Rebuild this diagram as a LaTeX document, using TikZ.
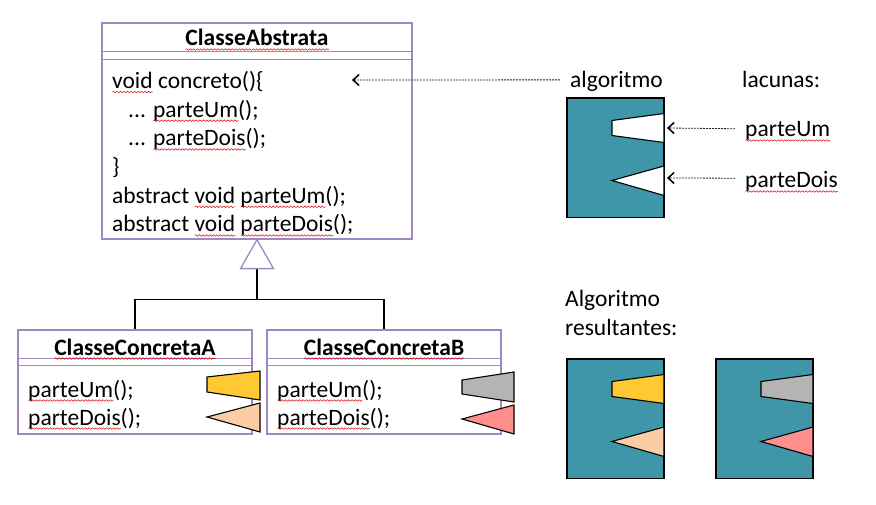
\documentclass[tikz,border=0pt]{standalone}
\usepackage{fontspec}
\setmainfont{Carlito}
\usetikzlibrary{
  calc,
  arrows.meta,
  decorations.pathmorphing
}
\definecolor{roxo}{RGB}{158,137,196}
\definecolor{petroleo}{RGB}{62,150,168}
\definecolor{amarelo}{RGB}{255,201,51}
\definecolor{pessego}{RGB}{250,205,165}
\definecolor{cinza}{RGB}{180,180,180}
\definecolor{rosa}{RGB}{255,143,143}
\newlength\larguraerro
\newcommand\erro[1]{\settowidth\larguraerro{#1}\rlap{\tikz[baseline=0pt]{\draw[red!85!black, line width=0.5pt, decorate, decoration={snake, amplitude=0.8pt, segment length=3.5pt}] (0pt,-3.5pt) -- (\larguraerro,-3.5pt);}}#1}
\tikzset{
texto/.style={font=\fontsize{23.5}{28}\selectfont, inner sep=0pt, anchor=base west},
titulo/.style={font=\bfseries\fontsize{23.5}{28}\selectfont, inner sep=0pt, anchor=base},
classe/.style={draw=roxo, line width=1.3pt, inner sep=0pt},
peca/.style={draw, line width=1.1pt},
dica/.style={dash pattern=on 2pt off 1pt, line width=0.8pt, black!85},
ponta/.style={-{Straight Barb[length=6pt,width=11pt]}, line width=1.5pt, solid, black}
}

\begin{document}
\begin{tikzpicture}[x=1pt, y=-1pt]
 \useasboundingbox (0,0) rectangle (876,505);
 % classe abstrata
 \node[classe, minimum width=310pt, minimum height=216pt] (abstrata) at (257,131) {};
 \draw[roxo, line width=1.3pt] ($(abstrata.north west)+(0,29)$) -- ($(abstrata.north east)+(0,29)$);
 \draw[roxo, line width=1.3pt] ($(abstrata.north west)+(0,37)$) -- ($(abstrata.north east)+(0,37)$);
 \node[titulo] (nomeAbstrata) at (257,46) {\erro{ClasseAbstrata}};
 \node[texto] (concreto) at (112,88.5) {\erro{void} concreto()\{};
 \node[texto] (chamaUm) at (128,117.2) {... \erro{parteUm}();};
 \node[texto] (chamaDois) at (128,145.9) {... \erro{parteDois}();};
 \node[texto] (fecha) at (112,174.6) {\}};
 \node[texto] (abstUm) at (112,203.3) {abstract \erro{void} \erro{parteUm}();};
 \node[texto] (abstDois) at (112,232) {abstract \erro{void} \erro{parteDois}();};
 % classes concretas
 \node[classe, minimum width=234pt, minimum height=104pt] (concretaA) at (135,382) {};
 \node[classe, minimum width=234pt, minimum height=104pt] (concretaB) at (384,382) {};
 \foreach \c in {concretaA, concretaB}{
  \draw[roxo, line width=1.3pt] ($(\c.north west)+(0,29)$) -- ($(\c.north east)+(0,29)$);
  \draw[roxo, line width=1.3pt] ($(\c.north west)+(0,36)$) -- ($(\c.north east)+(0,36)$);
 }
 \node[titulo] (nomeA) at (135,355) {\erro{ClasseConcretaA}};
 \node[titulo] (nomeB) at (384,355) {\erro{ClasseConcretaB}};
 \node[texto] (umA) at (28,397) {\erro{parteUm}();};
 \node[texto] (doisA) at (28,425) {\erro{parteDois}();};
 \node[texto] (umB) at (277,397) {\erro{parteUm}();};
 \node[texto] (doisB) at (277,425) {\erro{parteDois}();};
 \draw[peca, fill=amarelo] (207,377) -- (260,371) -- (260,400) -- (207,392) -- cycle;
 \draw[peca, fill=pessego] (207,417) -- (260,403) -- (260,432) -- cycle;
 \draw[peca, fill=cinza] (462,380) -- (514,372) -- (514,402) -- (462,394) -- cycle;
 \draw[peca, fill=rosa] (462,419) -- (514,405) -- (514,434) -- cycle;
 % heranca
 \coordinate (base) at ($(abstrata.south)+(0,29)$);
 \coordinate (juncao) at ($(base)+(0,31)$);
 \draw[line width=1.2pt] (base) -- (juncao);
 \draw[line width=1.2pt] (concretaA.north) |- (juncao) -| (concretaB.north);
 \draw[roxo, line width=1.3pt, fill=white] (abstrata.south) -- ($(base)+(-16.5,0)$) -- ($(base)+(16.5,0)$) -- cycle;
 % algoritmos
 \foreach \x/\y/\cum/\cdois in {567/98/white/white, 567/359/amarelo/pessego, 716/359/cinza/rosa}{
  \begin{scope}[shift={(\x,\y)}]
   \draw[peca, fill=petroleo] (0,0) rectangle (97,119.5);
   \draw[peca, fill=\cum] (45,22.5) -- (97,15.5) -- (97,44.5) -- (45,37.5) -- cycle;
   \draw[peca, fill=\cdois] (45,82.5) -- (97,68) -- (97,97.5) -- cycle;
  \end{scope}
 }
 \node[texto] (alg) at (570,88) {algoritmo};
 \node[texto] (lacunas) at (742,88) {lacunas:};
 \node[texto] (um) at (745,137) {\erro{parteUm}};
 \node[texto] (dois) at (745,188) {\erro{parteDois}};
 \node[texto] (resultado) at (565,307) {Algoritmo};
 \node[texto] (resultantes) at (565,335) {resultantes:};
 \coordinate (metodo) at (352,80);
 \coordinate (lacunaUm) at (667,128);
 \coordinate (lacunaDois) at (667,178);
 \draw[dica] ($(alg.west)+(-10,-2)$) -- (metodo);
 \draw[dica] ($(um.west)+(-10,-3)$) -- (lacunaUm);
 \draw[dica] ($(dois.west)+(-10,-4)$) -- (lacunaDois);
 \foreach \p in {metodo, lacunaUm, lacunaDois}
  \draw[ponta] ($(\p)+(2,0)$) -- (\p);
\end{tikzpicture}
\end{document}
